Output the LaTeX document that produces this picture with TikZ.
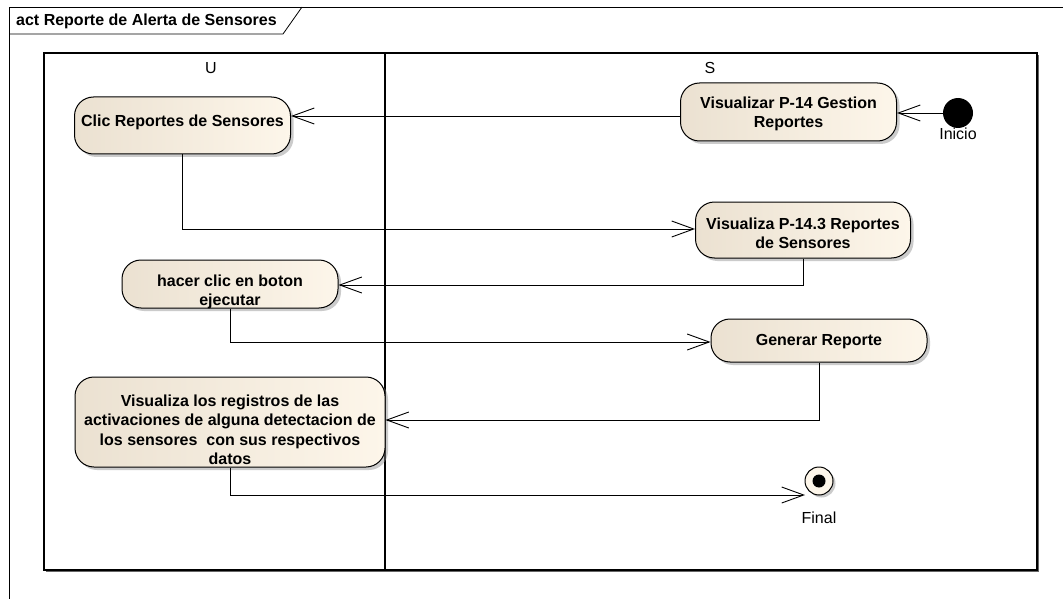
\documentclass[tikz,border=0pt]{standalone}
\usepackage{fontspec}
\setmainfont{Liberation Sans}
\usetikzlibrary{arrows.meta,shadows,calc}
\begin{document}
\begin{tikzpicture}[x=1pt,y=-1pt,
  action/.style={draw=black, line width=1pt, rounded corners=19pt,
    left color=actL, right color=actR,
    drop shadow={shadow xshift=3pt, shadow yshift=-3pt, opacity=0.45, fill=black!45}},
  acttext/.style={font=\fontsize{16}{19.5}\selectfont\bfseries, align=center, inner sep=0pt},
  plain/.style={font=\fontsize{16}{18}\selectfont, inner sep=0pt},
  flow/.style={draw=black, line width=0.9pt, -{Straight Barb[length=22pt,width=16pt,line width=0.9pt]}},
  lane/.style={draw=black, line width=1.3pt}
]
\definecolor{actL}{HTML}{EBE1D1}
\definecolor{actR}{HTML}{FDF6EA}
\useasboundingbox (0,0) rectangle (1063,599);
\fill[white] (0,0) rectangle (1063,599);

% diagram frame with its name tab
\draw[line width=0.8pt] (9,599) -- (9,7) -- (1063,7);
\draw[line width=0.8pt] (9,34) -- (283,34) -- (302,7);
\node[font=\fontsize{16}{18}\selectfont\bfseries, anchor=west, inner sep=0pt] (title) at (16,21) {act Reporte de Alerta de Sensores};

% partitions
\fill[black!60] (46,55) rectangle (1039,572);
\fill[white] (44,53) rectangle (1037,570);
\draw[lane] (44,53) rectangle (1037,570);
\draw[lane] (385,53) -- (385,570);
\node[plain] (laneU) at (211,68) {U};
\node[plain] (laneS) at (710,68) {S};

% actions
\node[action, minimum width=216pt, minimum height=57pt] (clic) at (182.5,125.5) {};
\node[acttext] (clicT) at (182.5,122) {Clic Reportes de Sensores};

\node[action, minimum width=216pt, minimum height=58pt] (vis14) at (788.5,112) {};
\node[acttext] (vis14T) at (788.5,114) {Visualizar P-14 Gestion\\Reportes};

\node[action, minimum width=215pt, minimum height=56pt] (vis143) at (803,230) {};
\node[acttext] (vis143T) at (803,233.5) {Visualiza P-14.3 Reportes\\de Sensores};

\node[action, minimum width=216pt, minimum height=48pt] (hacer) at (230,284) {};
\node[acttext] (hacerT) at (230,292) {hacer clic en boton\\ejecutar};

\node[action, minimum width=216pt, minimum height=43pt] (gen) at (819,340.5) {};
\node[acttext] (genT) at (819,342) {Generar Reporte};

\node[action, minimum width=310pt, minimum height=90pt] (reg) at (230,422) {};
\node[acttext] (regT) at (230,430) {Visualiza los registros de las\\activaciones de alguna detectacion de\\los sensores\ \ con sus respectivos\\datos};

% initial and final nodes
\node[circle, fill=black, minimum size=30pt, inner sep=0pt] (ini) at (958,113) {};
\node[plain] (iniL) at (958,134) {Inicio};
\node[circle, draw=black, line width=1pt, fill=actR, minimum size=28pt, inner sep=0pt,
  drop shadow={shadow xshift=2.5pt, shadow yshift=-2.5pt, opacity=0.45, fill=black!45}] (fin) at (819,481) {};
\node[circle, fill=black, minimum size=13pt, inner sep=0pt] (finD) at (fin) {};
\node[plain] (finL) at (819,518) {Final};

% control flows
\draw[flow] (ini.west) -- (vis14.east |- ini.west);
\draw[flow] (vis14.west |- 0,116) -- (clic.east |- 0,116);
\draw[flow] (clic.south) |- (vis143.west |- 0,229);
\draw[flow] (vis143.south) |- (hacer.east |- 0,285);
\draw[flow] (hacer.south) |- (gen.west |- 0,342);
\draw[flow] (gen.south) |- (reg.east |- 0,420);
\coordinate (finIn) at (805,495);
\draw[flow] (reg.south) |- (finIn);
\end{tikzpicture}
\end{document}
